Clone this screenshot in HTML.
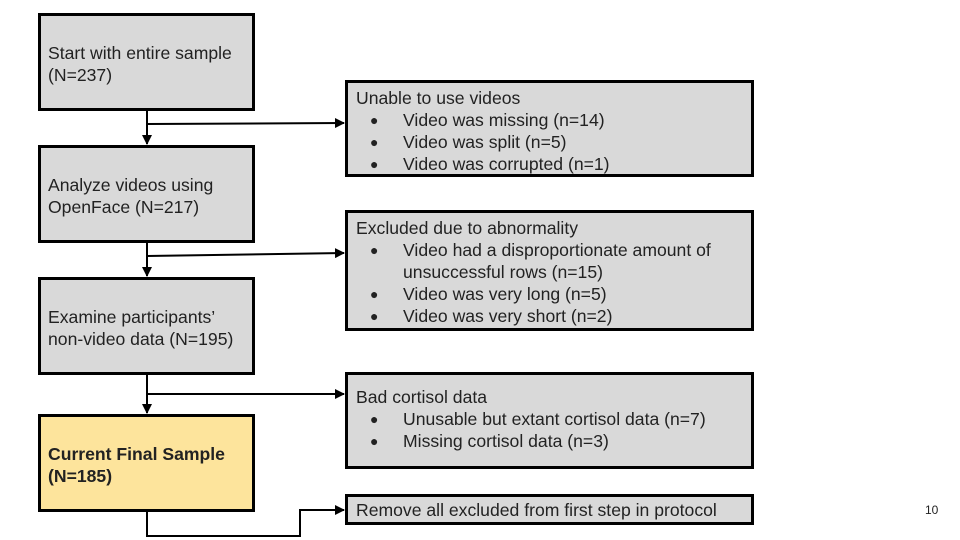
<!DOCTYPE html>
<html><head><style>
body{margin:0;width:960px;height:540px;background:#fff;position:relative;overflow:hidden;font-family:"Liberation Sans",sans-serif;color:#222;}
.b{position:absolute;box-sizing:border-box;border:3px solid #000;background:#d9d9d9;font-size:17.6px;line-height:22px;white-space:nowrap;}
.l{padding:0 0 0 7px;}
ul{margin:0;padding:0;list-style:none;}
li{position:relative;padding-left:47px;}
li:before{content:"●";position:absolute;left:14px;font-size:14px;}
</style></head><body>
<div class="b l" style="left:38px;top:13px;width:217px;height:98px;padding-top:26px;">Start with entire sample<br>(N=237)</div>
<div class="b l" style="left:38px;top:145px;width:217px;height:98px;padding-top:26px;">Analyze videos using<br>OpenFace (N=217)</div>
<div class="b l" style="left:38px;top:277px;width:217px;height:98px;padding-top:26px;">Examine participants’<br>non-video data (N=195)</div>
<div class="b l" style="left:38px;top:414px;width:217px;height:98px;padding-top:26px;background:#fde49c;font-weight:bold;">Current Final Sample<br>(N=185)</div>

<div class="b" style="left:345px;top:80px;width:409px;height:97px;padding:4px 0 0 8px;">Unable to use videos
<ul><li>Video was missing (n=14)</li><li>Video was split (n=5)</li><li>Video was corrupted (n=1)</li></ul></div>
<div class="b" style="left:345px;top:210px;width:409px;height:121px;padding:4px 0 0 8px;">Excluded due to abnormality
<ul><li>Video had a disproportionate amount of<br>unsuccessful rows (n=15)</li><li>Video was very long (n=5)</li><li>Video was very short (n=2)</li></ul></div>
<div class="b" style="left:345px;top:372px;width:409px;height:97px;padding:11px 0 0 8px;">Bad cortisol data
<ul><li>Unusable but extant cortisol data (n=7)</li><li>Missing cortisol data (n=3)</li></ul></div>
<div class="b" style="left:345px;top:494px;width:409px;height:31px;padding:2px 0 0 8px;">Remove all excluded from first step in protocol</div>

<div style="position:absolute;left:925px;top:503px;font-size:12px;">10</div>

<svg width="960" height="540" style="position:absolute;left:0;top:0;pointer-events:none">
<defs><marker id="a" markerWidth="10" markerHeight="10" refX="9" refY="5" orient="auto" markerUnits="userSpaceOnUse"><path d="M0,0 L10,5 L0,10z" fill="#000"/></marker></defs>
<g stroke="#000" stroke-width="2" fill="none">
<path d="M147 111 V144" marker-end="url(#a)"/>
<path d="M147 124 L344 123" marker-end="url(#a)"/>
<path d="M147 243 V276" marker-end="url(#a)"/>
<path d="M147 256 L344 253" marker-end="url(#a)"/>
<path d="M147 375 V413" marker-end="url(#a)"/>
<path d="M147 394 H344" marker-end="url(#a)"/>
<path d="M147 512 V536 H300 V510 H344" marker-end="url(#a)"/>
</g></svg>
</body></html>
